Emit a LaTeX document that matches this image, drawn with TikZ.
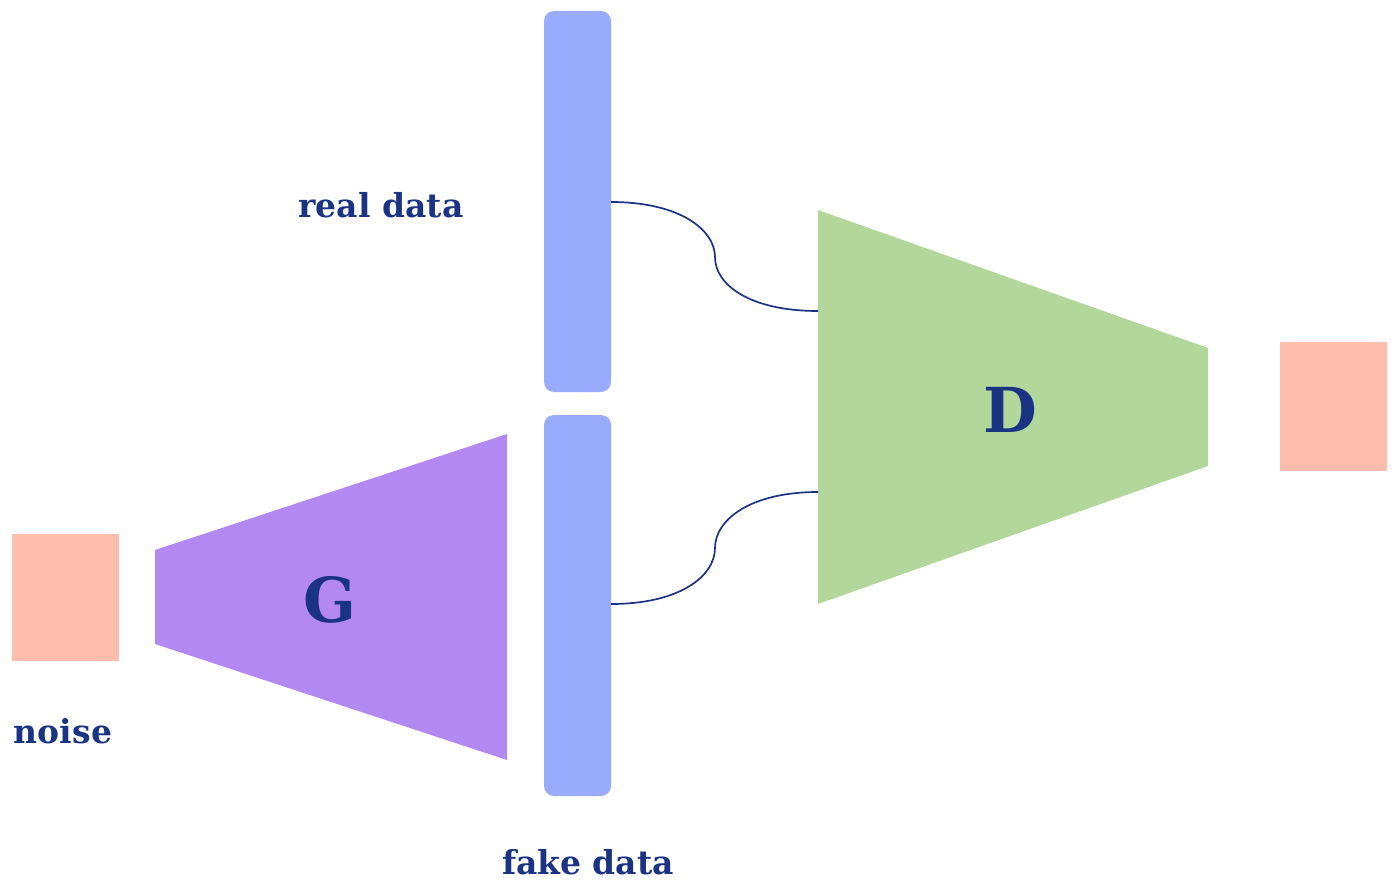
\documentclass[tikz,border=0pt]{standalone}
\usepackage{fontspec}
\setmainfont{DejaVu Serif}
\definecolor{txt}{HTML}{1A3382}
\definecolor{bar}{HTML}{99ABFD}
\definecolor{gcol}{HTML}{B388F1}
\definecolor{dcol}{HTML}{B1D89A}
\definecolor{sq}{HTML}{FDBDAD}
\tikzset{
  lbl/.style={text=txt, font=\bfseries\fontsize{33}{36}\selectfont, inner sep=0pt},
  big/.style={text=txt, font=\bfseries\fontsize{62}{70}\selectfont, inner sep=0pt},
  barbox/.style={fill=bar, rounded corners=10pt},
  wire/.style={draw=txt, line width=1.7pt},
}
\begin{document}
\begin{tikzpicture}[x=1pt,y=-1pt]
\useasboundingbox (0,0) rectangle (1400,893);
% bars
\fill[barbox] (544,11) rectangle (611,392);
\fill[barbox] (544,415) rectangle (611,796);
\coordinate (realout) at (611,202);
\coordinate (fakeout) at (611,604);
% squares
\fill[sq] (12,534) rectangle (119,661);
\fill[sq] (1280,342) rectangle (1387,471);
% G
\fill[gcol] (155,550) -- (507,434) -- (507,760) -- (155,644) -- cycle;
% D
\fill[dcol] (818,210) -- (1208,348) -- (1208,466) -- (818,604) -- cycle;
\coordinate (din1) at (818,311);
\coordinate (din2) at (818,492);
% wires
\draw[wire] (realout) .. controls (680,202) and (715,230) .. (715,257)
  .. controls (715,285) and (750,311) .. (din1);
\draw[wire] (fakeout) .. controls (680,604) and (715,576) .. (715,548)
  .. controls (715,520) and (750,492) .. (din2);
% labels
\node[lbl] (real) at (381,205) {real data};
\node[lbl] (fake) at (588,862) {fake data};
\node[lbl] (noise) at (63,731) {noise};
\node[big] (G) at (330,600) {G};
\node[big] (D) at (1010,410) {D};
\end{tikzpicture}
\end{document}
